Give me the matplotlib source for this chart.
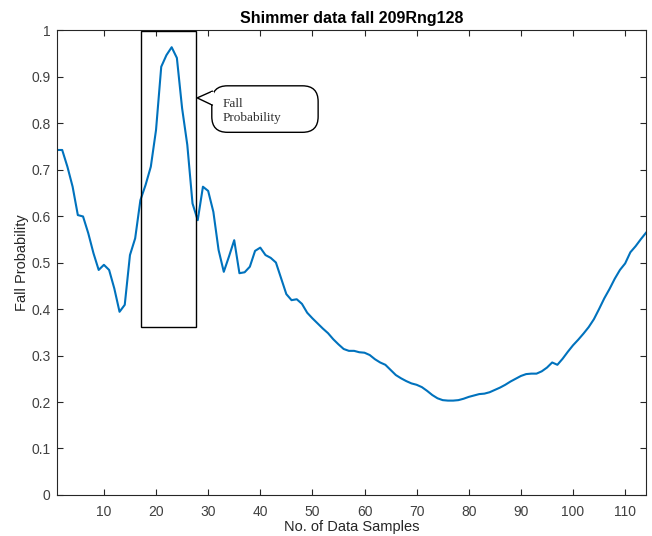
import matplotlib
matplotlib.use('Agg')
import matplotlib.pyplot as plt
from matplotlib.patches import FancyBboxPatch, Rectangle, Polygon

# fall probability per data sample
samples = list(range(1, 115))
fall_prob = [
    0.742, 0.742, 0.706, 0.663, 0.602, 0.599, 0.563, 0.520, 0.484, 0.495,
    0.484, 0.444, 0.394, 0.409, 0.516, 0.552, 0.634, 0.667, 0.706, 0.785,
    0.921, 0.946, 0.963, 0.940, 0.832, 0.753, 0.627, 0.591, 0.663, 0.654,
    0.609, 0.527, 0.480, 0.513, 0.548, 0.477, 0.479, 0.491, 0.525, 0.532,
    0.516, 0.510, 0.500, 0.466, 0.432, 0.419, 0.421, 0.411, 0.392, 0.380,
    0.369, 0.358, 0.348, 0.335, 0.324, 0.314, 0.310, 0.310, 0.307, 0.306,
    0.301, 0.292, 0.285, 0.280, 0.269, 0.258, 0.251, 0.245, 0.240, 0.237,
    0.232, 0.224, 0.215, 0.208, 0.204, 0.203, 0.203, 0.204, 0.207, 0.211,
    0.214, 0.217, 0.218, 0.221, 0.226, 0.231, 0.237, 0.244, 0.250, 0.256,
    0.260, 0.261, 0.261, 0.266, 0.274, 0.285, 0.280, 0.293, 0.308, 0.322,
    0.334, 0.347, 0.361, 0.378, 0.400, 0.423, 0.443, 0.465, 0.484, 0.498,
    0.522, 0.535, 0.550, 0.564,
]
xticks = list(range(10, 111, 10))
yticks = [i / 10 for i in range(11)]
ytick_labels = ['0'] + ['%.1f' % v for v in yticks[1:-1]] + ['1']

# highlighted window and callout
box_x = (17.2, 27.6)
box_y = (0.362, 0.998)
note_text = 'Fall\nProbability'

plt.rcParams['font.family'] = ['Liberation Sans', 'DejaVu Sans']
axis_col = '#262626'
label_col = '#404040'

fig = plt.figure(figsize=(6.52, 5.36), dpi=100)
ax = fig.add_axes([0.0874, 0.0765, 0.9034, 0.8675])

ax.plot(samples, fall_prob, color='#0072BD', linewidth=1.5)

ax.add_patch(Rectangle((box_x[0], box_y[0]), box_x[1] - box_x[0], box_y[1] - box_y[0],
                       fill=False, edgecolor='black', linewidth=1.0, zorder=3))

# speech bubble (rounded box + pointer)
aspect = (1 / 465) / (1 / 5.245)
bub = FancyBboxPatch((30.7, 0.78), 20.4, 0.1,
                     boxstyle='round,pad=0,rounding_size=3',
                     mutation_aspect=aspect,
                     facecolor='white', edgecolor='black', linewidth=1.0, zorder=4)
ax.add_patch(bub)
ax.add_patch(Polygon([(30.9, 0.869), (27.9, 0.854), (30.9, 0.838)], closed=False,
                     facecolor='white', edgecolor='black', linewidth=1.0, zorder=5))
ax.add_patch(Rectangle((30.5, 0.840), 0.6, 0.027, facecolor='white',
                       edgecolor='none', zorder=5))
ax.text(32.8, 0.826, note_text, family=['Liberation Serif', 'DejaVu Serif'],
        fontsize=9.5, va='center', ha='left', linespacing=1.25, zorder=6,
        color='#303030')

ax.set_xlim(1, 114)
ax.set_ylim(0, 1)
ax.set_xticks(xticks)
ax.set_yticks(yticks)
ax.set_yticklabels(ytick_labels)
ax.tick_params(direction='in', top=True, right=True, length=4, width=0.8,
               colors=axis_col, labelcolor=label_col, labelsize=10)
ax.tick_params(axis='x', pad=7)
ax.tick_params(axis='y', pad=4.5)
for side in ax.spines.values():
    side.set_color(axis_col)
    side.set_linewidth(0.8)

ax.set_title('Shimmer data fall 209Rng128', fontsize=11.5, fontweight='bold', pad=5)
ax.set_xlabel('No. of Data Samples', fontsize=10.5, color=axis_col, labelpad=1)
ax.set_ylabel('Fall Probability', fontsize=10.5, color=axis_col, labelpad=2)

fig.savefig('out.png', dpi=100)
